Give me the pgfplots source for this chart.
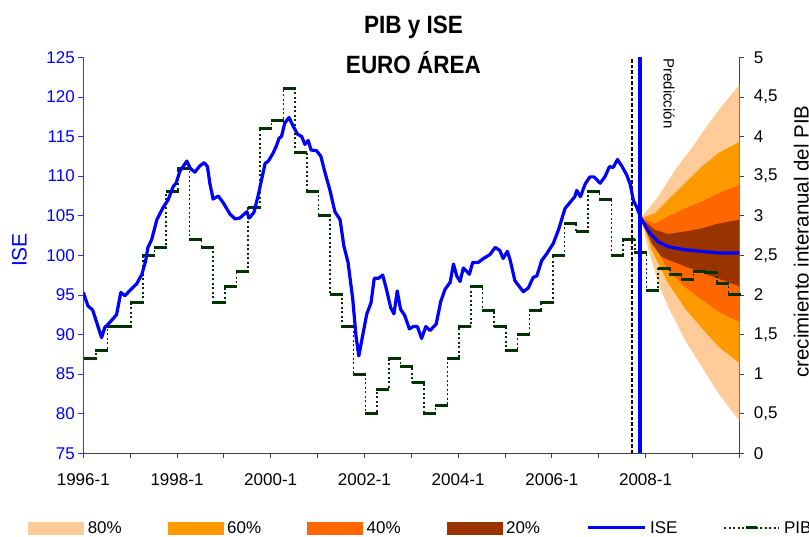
\documentclass[border=0pt]{standalone}
\usepackage{fontspec}
\setmainfont{Liberation Sans}
\newfontfamily\titlefont{Liberation Sans}[FakeStretch=0.9]
\usepackage{pgfplots}
\pgfplotsset{compat=1.18}
\definecolor{c80}{HTML}{FFCC99}
\definecolor{c60}{HTML}{FF9900}
\definecolor{c40}{HTML}{FF6600}
\definecolor{c20}{HTML}{993300}
\definecolor{pibc}{HTML}{003300}
\definecolor{isec}{HTML}{0000FF}
\newcommand\tickfont{\fontsize{17pt}{20pt}\selectfont}
\begin{document}
\begin{tikzpicture}
\pgfplotsset{
  base/.style={width=656pt,height=396pt,scale only axis,xmin=1996,xmax=2010,
    at={(0pt,0pt)},anchor=south west,tick align=outside,major tick length=5pt,
    minor tick num=0},
}
% ---------- right axis: PIB growth and fan ----------
\begin{axis}[base, axis x line=none, axis y line*=right,
  ymin=0, ymax=5, ytick={0,0.5,...,5},
  y axis line style={black!75, line width=0.8pt},
  ytick style={black!75, line width=0.8pt},
  yticklabel style={font=\tickfont, xshift=6pt, /pgf/number format/.cd, use comma, fixed, assume math mode=true},
]
% 80% band
\addplot[fill=c80, draw=none] coordinates {
 (2007.90,2.97) (2008.27,3.24) (2008.63,3.58) (2008.98,3.85) (2009.27,4.10) (2009.62,4.38) (2010.00,4.65)
 (2010.00,0.41) (2009.55,0.76) (2009.20,1.09) (2008.84,1.43) (2008.48,1.85) (2008.27,2.15) (2008.06,2.57) (2007.90,2.97)} -- cycle;
% 60% band
\addplot[fill=c60, draw=none] coordinates {
 (2007.90,2.97) (2008.20,3.03) (2008.48,3.20) (2008.84,3.41) (2009.20,3.62) (2009.55,3.79) (2010.00,3.93)
 (2010.00,1.14) (2009.55,1.35) (2009.20,1.58) (2008.84,1.83) (2008.48,2.15) (2008.13,2.57) (2007.90,2.97)} -- cycle;
% 40% band
\addplot[fill=c40, draw=none] coordinates {
 (2007.90,2.97) (2008.20,2.90) (2008.48,2.99) (2008.84,3.09) (2009.20,3.18) (2009.55,3.28) (2010.00,3.39)
 (2010.00,1.66) (2009.55,1.79) (2009.20,1.94) (2008.84,2.10) (2008.48,2.31) (2008.20,2.62) (2007.90,2.97)} -- cycle;
% 20% band
\addplot[fill=c20, draw=none] coordinates {
 (2007.90,2.97) (2008.20,2.82) (2008.48,2.77) (2008.84,2.80) (2009.20,2.84) (2009.55,2.90) (2010.00,2.95)
 (2010.00,2.11) (2009.34,2.25) (2008.84,2.36) (2008.34,2.48) (2008.13,2.65) (2007.90,2.97)} -- cycle;
% PIB quarterly growth
\addplot[pibc, line width=1.6pt, dash pattern=on 2pt off 2.5pt, const plot mark mid,
  mark=-, mark size=6.5pt, mark options={solid, line width=3pt}] table {
1996.145 1.2
1996.395 1.3
1996.645 1.6
1996.895 1.6
1997.145 1.9
1997.395 2.5
1997.645 2.6
1997.895 3.3
1998.145 3.6
1998.395 2.7
1998.645 2.6
1998.895 1.9
1999.145 2.1
1999.395 2.3
1999.645 3.1
1999.895 4.1
2000.145 4.2
2000.395 4.6
2000.645 3.8
2000.895 3.3
2001.145 3.0
2001.395 2.0
2001.645 1.6
2001.895 1.0
2002.145 0.5
2002.395 0.8
2002.645 1.2
2002.895 1.1
2003.145 0.9
2003.395 0.5
2003.645 0.6
2003.895 1.2
2004.145 1.6
2004.395 2.1
2004.645 1.8
2004.895 1.6
2005.145 1.3
2005.395 1.5
2005.645 1.8
2005.895 1.9
2006.145 2.5
2006.395 2.9
2006.645 2.8
2006.895 3.3
2007.145 3.2
2007.395 2.5
2007.645 2.7
2007.895 2.53
2008.145 2.06
2008.395 2.33
2008.645 2.26
2008.895 2.20
2009.145 2.29
2009.395 2.28
2009.645 2.14
2009.895 2.00
};
\end{axis}
% ---------- left axis: ISE ----------
\begin{axis}[base, axis x line*=bottom, axis y line*=left,
  ymin=75, ymax=125, ytick={75,80,...,125},
  xtick={1996,...,2010},
  xticklabels={1996-1,,1998-1,,2000-1,,2002-1,,2004-1,,2006-1,,2008-1,,},
  xticklabel style={font=\tickfont, yshift=-12pt},
  x axis line style={black!75, line width=0.8pt},
  xtick style={black!75, line width=0.8pt},
  y axis line style={isec!80, line width=0.8pt},
  ytick style={isec!80, line width=0.8pt},
  yticklabel style={font=\tickfont, text=isec, /pgf/number format/assume math mode=true},
  legend columns=6,
  legend cell align=left,
  legend style={draw=none, fill=none, inner sep=0pt, outer sep=0pt,
    at={(axis description cs:-0.0837,-0.1886)}, anchor=west,
    font=\tickfont,
    nodes={inner xsep=0pt, inner ysep=1pt},
    /tikz/every odd column/.style={column sep=4pt},
    /tikz/every even column/.style={column sep=46pt}},
]
\addlegendimage{legend image code/.code={\fill[c80] (0pt,-6pt) rectangle (55pt,6pt);}}
\addlegendentry{80\%}
\addlegendimage{legend image code/.code={\fill[c60] (0pt,-6pt) rectangle (55pt,6pt);}}
\addlegendentry{60\%}
\addlegendimage{legend image code/.code={\fill[c40] (0pt,-6pt) rectangle (55pt,6pt);}}
\addlegendentry{40\%}
\addlegendimage{legend image code/.code={\fill[c20] (0pt,-6pt) rectangle (55pt,6pt);}}
\addlegendentry{20\%}
% verticals
\addplot[black, line width=2pt, dash pattern=on 3.5pt off 2pt, forget plot] coordinates {(2007.71,75) (2007.71,125)};
\addplot[isec, line width=3.3pt, forget plot] coordinates {(2007.88,75) (2007.88,125)};
% ISE
\addplot[isec, line width=3.2pt, line join=round, mark=none,
  legend image code/.code={\draw[isec, line width=3pt] (0pt,0pt) -- (57pt,0pt);}] table {
1996.00 95.3
1996.10 93.6
1996.20 93.1
1996.39 89.6
1996.46 90.9
1996.53 91.3
1996.71 92.5
1996.80 95.3
1996.89 94.9
1997.00 95.6
1997.14 96.4
1997.25 97.6
1997.33 99.3
1997.38 101.0
1997.46 102.0
1997.57 104.5
1997.70 106.0
1997.81 107.0
1997.92 108.7
1997.98 109.1
1998.06 110.6
1998.21 111.9
1998.28 111.0
1998.38 110.5
1998.49 111.3
1998.58 111.7
1998.65 111.2
1998.70 109.1
1998.77 107.1
1998.88 107.5
1998.99 106.6
1999.13 105.2
1999.24 104.6
1999.34 104.7
1999.49 105.5
1999.54 104.7
1999.64 105.4
1999.73 107.5
1999.88 111.6
1999.95 111.9
2000.05 112.9
2000.12 113.8
2000.18 114.8
2000.23 115.0
2000.30 116.7
2000.39 117.4
2000.48 116.3
2000.57 115.3
2000.66 115.0
2000.73 114.0
2000.80 114.5
2000.86 113.3
2000.98 113.2
2001.07 112.5
2001.16 110.4
2001.26 108.3
2001.37 105.5
2001.48 104.5
2001.56 101.2
2001.65 99.1
2001.75 94.5
2001.82 89.8
2001.88 87.3
2001.96 89.8
2002.05 92.6
2002.14 94.0
2002.21 97.1
2002.30 97.1
2002.39 97.5
2002.47 95.7
2002.56 93.4
2002.63 92.6
2002.70 95.5
2002.77 93.2
2002.86 92.4
2002.96 90.7
2003.04 91.0
2003.13 91.0
2003.22 89.5
2003.31 91.0
2003.40 90.5
2003.53 91.3
2003.63 94.2
2003.72 95.7
2003.83 96.6
2003.90 98.9
2003.97 97.4
2004.04 96.7
2004.11 98.4
2004.18 98.0
2004.24 97.6
2004.31 99.1
2004.43 99.1
2004.54 99.6
2004.68 100.1
2004.79 101.0
2004.89 100.6
2004.96 99.6
2005.05 100.5
2005.11 99.4
2005.21 96.8
2005.39 95.4
2005.50 95.9
2005.60 97.2
2005.68 97.4
2005.78 99.3
2005.89 100.2
2006.03 101.5
2006.14 103.2
2006.28 105.9
2006.39 106.7
2006.49 107.4
2006.53 108.2
2006.61 107.4
2006.71 109.0
2006.81 109.9
2006.90 109.9
2007.03 109.1
2007.13 109.9
2007.23 111.2
2007.31 111.1
2007.40 112.1
2007.49 111.3
2007.60 110.1
2007.67 109.0
2007.74 106.9
2007.81 106.1
2007.90 104.7
2008.06 103.0
2008.27 101.7
2008.48 101.1
2008.84 100.7
2009.20 100.5
2009.55 100.3
2010.00 100.3
};
\addlegendentry{ISE}
\addlegendimage{legend image code/.code={
  \draw[pibc, line width=1.6pt, dash pattern=on 2pt off 2.5pt] (0pt,0pt) -- (55pt,0pt);
  \draw[pibc, line width=3pt] (22pt,0pt) -- (33pt,0pt);}}
\addlegendentry{PIB}
\node[rotate=-90, anchor=west, font=\fontsize{15pt}{18pt}\selectfont] at (axis cs:2008.5,125.3) {Predicción};
\end{axis}
% titles and axis labels
\node[anchor=base, font={\titlefont\bfseries\fontsize{25pt}{30pt}\selectfont}] at (330.2pt,420pt) {PIB y ISE};
\node[anchor=base, font={\titlefont\bfseries\fontsize{25pt}{30pt}\selectfont}] at (330.2pt,380pt) {EURO ÁREA};
\node[rotate=90, anchor=base, text=isec, font=\fontsize{21pt}{24pt}\selectfont] at (-56.6pt,203.3pt) {ISE};
\node[rotate=90, anchor=base, font=\fontsize{20.5pt}{24pt}\selectfont] at (725.2pt,211.8pt) {crecimiento interanual del PIB};
\pgfresetboundingbox
\path[use as bounding box] (-83.3pt,-82.7pt) rectangle (725.7pt,453.3pt);
\end{tikzpicture}
\end{document}
